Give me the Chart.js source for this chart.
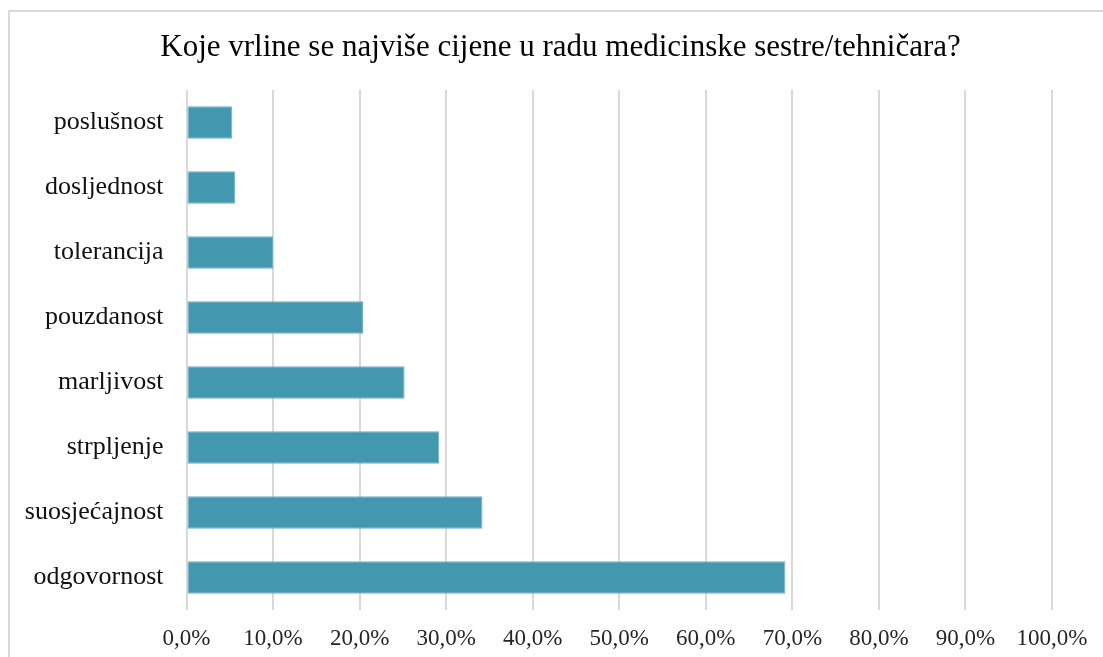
<!DOCTYPE html>
<html>
<head>
<meta charset="utf-8">
<script src="https://cdn.jsdelivr.net/npm/chart.js@4"></script>
<style>
  html, body { margin: 0; padding: 0; background: #fff; overflow: hidden; width: 1103px; height: 657px; }
  #frame { position: absolute; left: 8px; top: 10px; width: 1200px; height: 800px; border: 2px solid #d9d9d9; box-sizing: border-box; }
  #wrap { position: absolute; left: 0; top: 0; width: 1103px; height: 657px; }
</style>
</head>
<body>
<div id="frame"></div>
<div id="wrap"><canvas id="c" width="1103" height="657"></canvas></div>
<script>
const chartTitle = "Koje vrline se najviše cijene u radu medicinske sestre/tehničara?";
const categories = ["poslušnost", "dosljednost", "tolerancija", "pouzdanost", "marljivost", "strpljenje", "suosjećajnost", "odgovornost"];
const values = [5.3, 5.6, 10.0, 20.4, 25.2, 29.2, 34.2, 69.2];
const xMin = 0, xMax = 100, xStep = 10;

const serif = "'Liberation Serif', 'Times New Roman', serif";

new Chart(document.getElementById('c'), {
  type: 'bar',
  data: {
    labels: categories,
    datasets: [{
      data: values,
      backgroundColor: '#4398AF',
      borderColor: '#6fb0c3',
      borderWidth: 1,
      borderSkipped: false,
      barPercentage: 0.5,
      categoryPercentage: 1.0
    }]
  },
  options: {
    indexAxis: 'y',
    responsive: false,
    animation: false,
    layout: { padding: { left: 18, right: 0, top: 0, bottom: 0 } },
    plugins: {
      legend: { display: false },
      tooltip: { enabled: false },
      title: {
        display: true,
        text: chartTitle,
        color: '#000',
        font: { family: serif, size: 31, weight: 'normal' },
        padding: { top: 28.8, bottom: 24.0 }
      }
    },
    scales: {
      x: {
        min: xMin, max: xMax,
        border: { display: false },
        grid: { color: '#d9d9d9', lineWidth: 2, drawTicks: false },
        ticks: {
          stepSize: xStep,
          color: '#262626',
          padding: 15,
          font: { family: serif, size: 23 },
          callback: v => v.toFixed(1).replace('.', ',') + '%'
        },
        afterFit: s => { s.height = 47; }
      },
      y: {
        border: { display: false },
        grid: { display: false, drawTicks: false },
        ticks: {
          color: '#111',
          padding: 23,
          font: { family: serif, size: 26 }
        },
        afterFit: s => { s.width = 168.5; }
      },
      yRightSpace: {
        type: 'linear',
        position: 'right',
        display: true,
        border: { display: false },
        grid: { display: false, drawTicks: false },
        ticks: { display: false },
        afterFit: s => { s.width = 51; }
      }
    }
  }
});
</script>
</body>
</html>
